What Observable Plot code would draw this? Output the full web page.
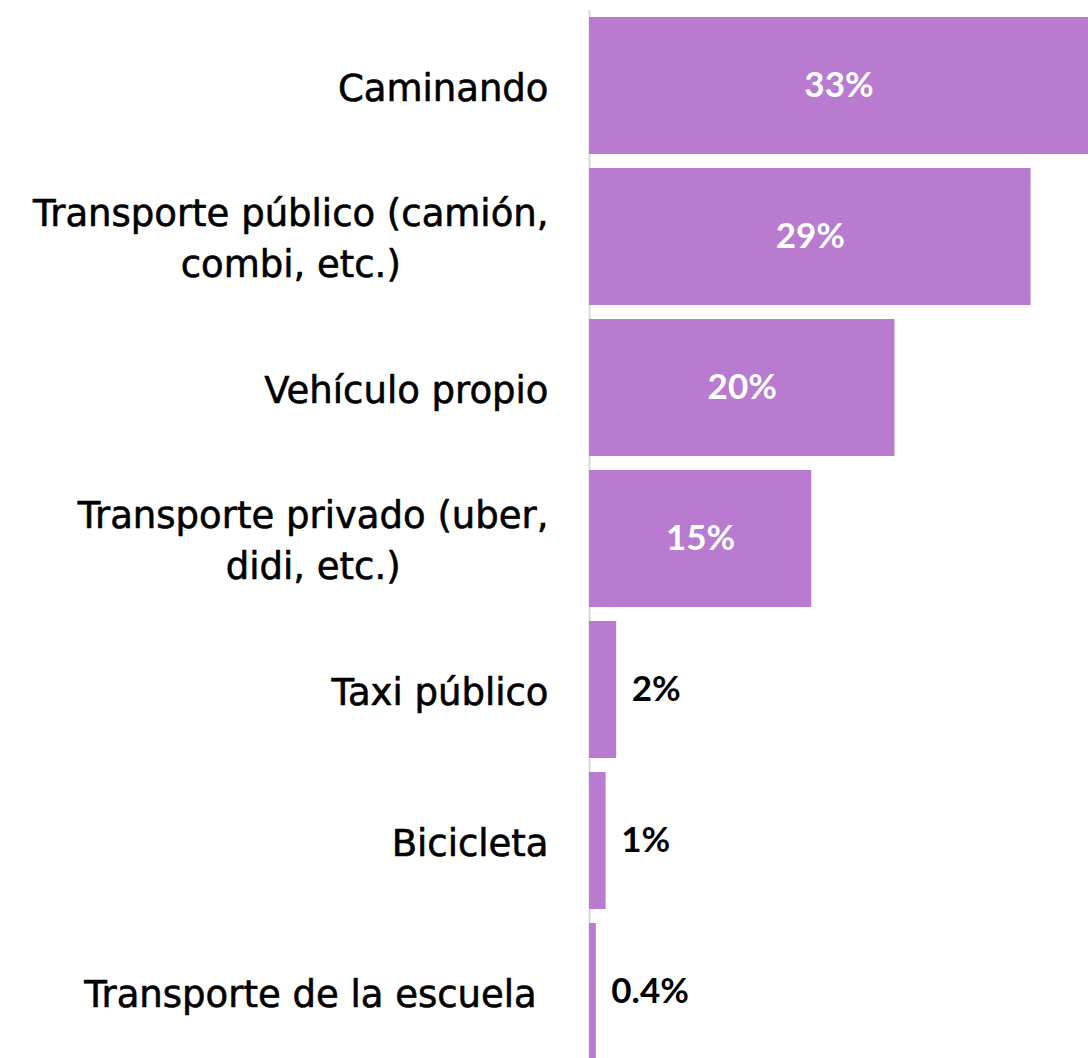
<!DOCTYPE html>
<html>
<head>
<meta charset="utf-8">
<script src="https://cdn.jsdelivr.net/npm/d3@7"></script>
<script src="https://cdn.jsdelivr.net/npm/@observablehq/plot@0.6"></script>
<style>
  html, body { margin: 0; padding: 0; background: #fff; }
  #chart svg { display: block; }
</style>
</head>
<body>
<div id="chart"></div>
<script>
// Categories (as in the chart, top to bottom)
const categories = [
  "Caminando",
  "Transporte público (camión, combi, etc.)",
  "Vehículo propio",
  "Transporte privado (uber, didi, etc.)",
  "Taxi público",
  "Bicicleta",
  "Transporte de la escuela"
];
// Category labels as they are wrapped in the chart
const tickLabels = [
  "Caminando",
  "Transporte público (camión,\ncombi, etc.)",
  "Vehículo propio",
  "Transporte privado (uber,\ndidi, etc.)",
  "Taxi público",
  "Bicicleta",
  "Transporte de la escuela\u00a0"
];
// Share (%)
const values = [33, 29.2, 20.2, 14.7, 1.8, 1.1, 0.45];
// Value labels as printed
const valueLabels = ["33%", "29%", "20%", "15%", "2%", "1%", "0.4%"];

const data = categories.map((c, i) => ({
  cat: c, label: tickLabels[i], value: values[i], text: valueLabels[i]
}));

const labelFont = "DejaVu Sans";
const labelSize = 37;
const valueFont = "Lato";
const valueSize = 35;
const barColor = "#b87bd0";

// measure widest line of each wrapped label so lines center within a right-aligned block
const ctx = document.createElement("canvas").getContext("2d");
ctx.font = `${labelSize}px "${labelFont}"`;
const blockWidth = (s) => Math.max(...s.split("\n").map(l => ctx.measureText(l).width));

const labelMarks = data.map(d => Plot.text([d], {
  x: () => 0,
  y: "cat",
  text: "label",
  textAnchor: "middle",
  lineHeight: 1.4,
  dx: -(41 + blockWidth(d.label) / 2),
  dy: -2,
  fill: "#000",
  stroke: "#000",
  strokeWidth: 0.6,
  fontSize: labelSize,
  fontFamily: labelFont
}));

const chart = Plot.plot({
  width: 1088,
  height: 1058,
  marginLeft: 589,
  marginRight: 0,
  marginTop: 10,
  marginBottom: 0,
  style: { fontFamily: labelFont, background: "#fff" },
  x: { domain: [0, 33], axis: null },
  y: { domain: categories, range: [1, 1076], padding: 0.09, axis: null },
  marks: [
    Plot.ruleX([0], { stroke: "#d9d9d9", strokeWidth: 2 }),
    Plot.barX(data, { x: "value", y: "cat", fill: barColor }),
    Plot.text(data.filter(d => d.value >= 10), {
      x: d => d.value / 2, y: "cat", text: "text",
      fill: "#fff", fontSize: valueSize, fontWeight: "bold", fontFamily: valueFont
    }),
    Plot.text(data.filter(d => d.value < 10), {
      x: "value", y: "cat", text: "text", textAnchor: "start", dx: 15,
      fill: "#000", fontSize: valueSize, fontWeight: "bold", fontFamily: valueFont
    }),
    ...labelMarks
  ]
});
document.getElementById("chart").append(chart);
</script>
</body>
</html>
